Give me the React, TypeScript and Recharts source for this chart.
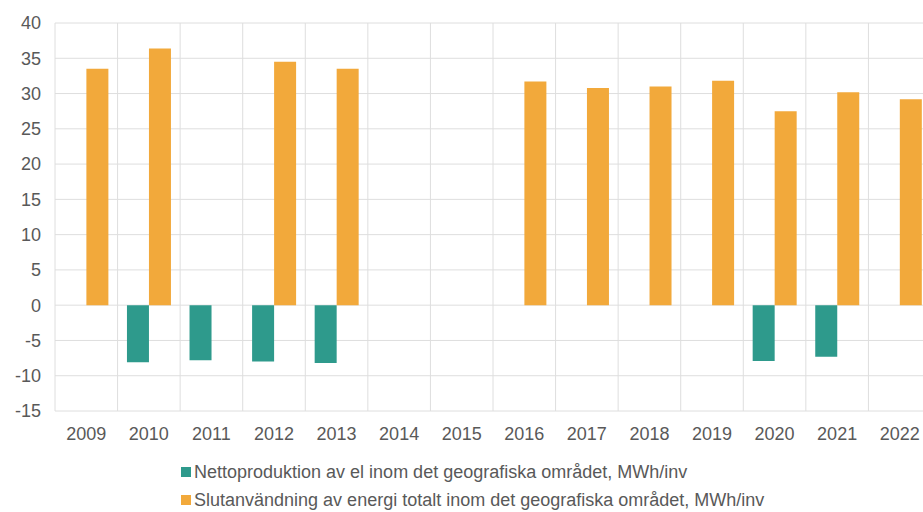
import { BarChart, Bar, XAxis, YAxis, CartesianGrid } from "recharts";

const years = ["2009", "2010", "2011", "2012", "2013", "2014", "2015", "2016", "2017", "2018", "2019", "2020", "2021", "2022"];
const netto = [null, -8.1, -7.8, -8.0, -8.2, null, null, null, null, null, null, -7.9, -7.3, null];
const slut = [33.5, 36.4, null, 34.5, 33.5, null, null, 31.7, 30.8, 31.0, 31.8, 27.5, 30.2, 29.2];
const yTicks = [-15, -10, -5, 0, 5, 10, 15, 20, 25, 30, 35, 40];

const series = [
  { key: "netto", name: "Nettoproduktion av el inom det geografiska området, MWh/inv", color: "#2E9A8C" },
  { key: "slut", name: "Slutanvändning av energi totalt inom det geografiska området, MWh/inv", color: "#F2A93B" },
];

const data = years.map((year, i) => ({ year, netto: netto[i], slut: slut[i] }));

const font = "'Liberation Sans', Arial, sans-serif";
const textColor = "#595959";

export default function App() {
  return (
    <div style={{ position: "absolute", left: 0, top: 0, width: 923, height: 512, overflow: "hidden", background: "#fff", fontFamily: font }}>
      <BarChart
        width={940}
        height={512}
        data={data}
        margin={{ top: 23, right: 9, bottom: 71, left: 0 }}
        barCategoryGap="15%"
        barGap={0}
      >
        <CartesianGrid
          stroke="#dedede"
          verticalCoordinatesGenerator={({ offset }: any) =>
            Array.from({ length: years.length + 1 }, (_, i) => offset.left + (i * offset.width) / years.length)
          }
        />
        <XAxis
          dataKey="year"
          interval={0}
          axisLine={false}
          tickLine={false}
          tickMargin={10}
          tick={{ fill: textColor, fontSize: 18, fontFamily: font }}
        />
        <YAxis
          width={55}
          domain={[-15, 40]}
          ticks={yTicks}
          axisLine={false}
          tickLine={false}
          tickMargin={8}
          tick={{ fill: textColor, fontSize: 18, fontFamily: font }}
        />
        {series.map((s) => (
          <Bar key={s.key} dataKey={s.key} name={s.name} fill={s.color} isAnimationActive={false} />
        ))}
      </BarChart>
      <div style={{ position: "absolute", left: 181, top: 458, color: textColor, fontSize: 18 }}>
        {series.map((s) => (
          <div key={s.key} style={{ display: "flex", alignItems: "center", height: 28, whiteSpace: "nowrap" }}>
            <span style={{ width: 10, height: 10, background: s.color, marginRight: 3, display: "inline-block" }} />
            <span>{s.name}</span>
          </div>
        ))}
      </div>
    </div>
  );
}
